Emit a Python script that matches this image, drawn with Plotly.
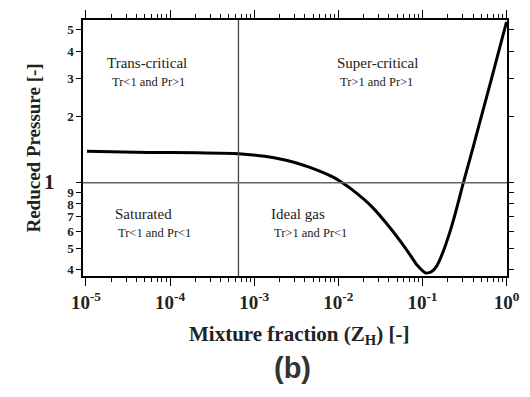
import math
import plotly.graph_objects as go

# Data
mix_fraction = [1.027e-5, 5.48e-5, 2.07e-4, 6.50e-4, 1.333e-3, 2.96e-3, 5.03e-3, 8.57e-3,
                1.117e-2, 1.458e-2, 2.48e-2, 4.23e-2, 5.51e-2, 7.19e-2, 8.67e-2, 1.10e-1,
                1.29e-1, 1.475e-1, 1.73e-1, 2.085e-1, 2.445e-1, 3.02e-1, 4.05e-1,
                5.14e-1, 6.53e-1, 8.30e-1, 1.0]
reduced_pressure = [1.392, 1.377, 1.373, 1.359, 1.321, 1.242, 1.161, 1.064,
                    1.0, 0.930, 0.780, 0.615, 0.538, 0.466, 0.420, 0.387,
                    0.393, 0.416, 0.4755, 0.584, 0.719, 0.980, 1.480,
                    2.082, 2.927, 4.157, 5.44]

x_tickvals = [1e-5, 1e-4, 1e-3, 1e-2, 1e-1, 1]
x_ticktext = ["<b>10<sup>-5</sup></b>", "<b>10<sup>-4</sup></b>", "<b>10<sup>-3</sup></b>",
              "<b>10<sup>-2</sup></b>", "<b>10<sup>-1</sup></b>", "<b>10<sup>0</sup></b>"]
y_tickvals = [0.4, 0.5, 0.6, 0.7, 0.8, 0.9, 1, 2, 3, 4, 5]
y_ticktext = ["<b>4</b>", "<b>5</b>", "<b>6</b>", "<b>7</b>", "<b>8</b>", "<b>9</b>",
              " ", "<b>2</b>", "<b>3</b>", "<b>4</b>", "<b>5</b>"]
unit_label = "<b>1</b>"

boundary_z = 6.5e-4
boundary_p = 1.0

region_titles = ["Trans-critical", "Super-critical", "Saturated", "Ideal gas"]
region_conditions = ["Tr&lt;1 and Pr&gt;1", "Tr&gt;1 and Pr&gt;1", "Tr&lt;1 and Pr&lt;1", "Tr&gt;1 and Pr&lt;1"]
region_x_title = [1.70e-5, 9.04e-3, 2.10e-5, 1.48e-3]
region_x_cond = [1.95e-5, 1.00e-2, 2.28e-5, 1.61e-3]
region_y_title = [3.52, 3.52, 0.719, 0.719]
region_y_cond = [2.90, 2.90, 0.590, 0.590]

serif = "Liberation Serif, Times New Roman, serif"

fig = go.Figure()
fig.add_trace(go.Scatter(x=mix_fraction, y=reduced_pressure, mode="lines",
                         line=dict(color="black", width=3, shape="spline", smoothing=0.6),
                         showlegend=False, hoverinfo="skip"))

fig.add_shape(type="line", xref="x", yref="paper", x0=boundary_z, x1=boundary_z, y0=0, y1=1,
              line=dict(color="#444444", width=1.3))
fig.add_shape(type="line", xref="paper", yref="y", x0=0, x1=1, y0=boundary_p, y1=boundary_p,
              line=dict(color="#666666", width=1.5))

for t, c, xt, xc, yt, yc in zip(region_titles, region_conditions, region_x_title,
                                region_x_cond, region_y_title, region_y_cond):
    fig.add_annotation(x=math.log10(xt), y=math.log10(yt), xref="x", yref="y", text=t,
                       showarrow=False, xanchor="left", yanchor="middle",
                       font=dict(family=serif, size=15, color="#222222"))
    fig.add_annotation(x=math.log10(xc), y=math.log10(yc), xref="x", yref="y", text=c,
                       showarrow=False, xanchor="left", yanchor="middle",
                       font=dict(family=serif, size=12.5, color="#222222"))

fig.add_annotation(x=0, y=math.log10(boundary_p), xref="paper", yref="y",
                   text=unit_label, showarrow=False, xanchor="right", yanchor="middle",
                   xshift=-26, yshift=1, font=dict(family=serif, size=21, color="#222222"))

fig.add_annotation(x=0.51, y=-0.23, xref="paper", yref="paper",
                   text="<b>Mixture fraction (Z<sub>H</sub>) [-]</b>", showarrow=False,
                   xanchor="center", yanchor="middle",
                   font=dict(family=serif, size=21, color="#222222"))
fig.add_annotation(x=0.495, y=-0.36, xref="paper", yref="paper",
                   text="<b>(b)</b>", showarrow=False,
                   xanchor="center", yanchor="middle",
                   font=dict(family="Liberation Sans, Arial, sans-serif", size=29, color="#333333"))

fig.update_xaxes(type="log", range=[-5.035, 0.005],
                 tickvals=x_tickvals, ticktext=x_ticktext,
                 ticks="outside", ticklen=8, tickwidth=1.3, tickcolor="black",
                 minor=dict(ticks="outside", ticklen=4, tickwidth=1, tickcolor="black",
                            dtick="D1", showgrid=False),
                 showline=True, linecolor="black", linewidth=1.5, mirror="ticks",
                 showgrid=False, zeroline=False,
                 tickfont=dict(family=serif, size=19, color="#222222"))
fig.update_yaxes(type="log", range=[-0.426, 0.744],
                 tickvals=y_tickvals, ticktext=y_ticktext,
                 ticks="outside", ticklen=5, tickwidth=1.3, tickcolor="black",
                 showline=True, linecolor="black", linewidth=1.5, mirror="ticks",
                 showgrid=False, zeroline=False,
                 tickfont=dict(family=serif, size=13, color="#222222"),
                 title=dict(text="<b>Reduced Pressure [-]</b>", standoff=22,
                            font=dict(family=serif, size=19, color="#222222")))

fig.update_layout(width=530, height=397, margin=dict(l=83, r=10, t=15, b=121),
                  plot_bgcolor="white", paper_bgcolor="white")

fig.write_html("out.html")
